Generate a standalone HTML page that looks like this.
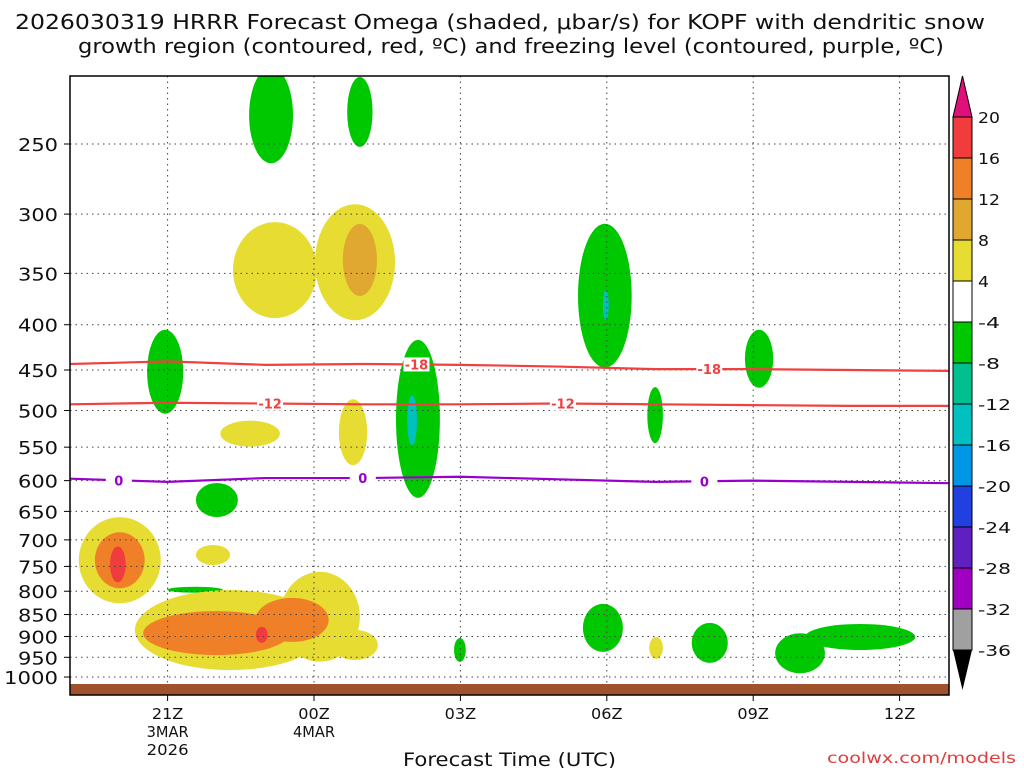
<!DOCTYPE html>
<html><head><meta charset="utf-8"><style>
body{margin:0;background:#fff;width:1024px;height:768px;overflow:hidden;font-family:"Liberation Sans",sans-serif}
svg text{font-family:"DejaVu Sans","Liberation Sans",sans-serif}
</style></head><body>
<svg id="chart" width="1024" height="768" xmlns="http://www.w3.org/2000/svg">
<g>
<text x="15" y="29" textLength="970" lengthAdjust="spacingAndGlyphs" font-size="20" fill="#111">2026030319 HRRR Forecast Omega (shaded, μbar/s) for KOPF with dendritic snow</text>
<text x="78" y="53" textLength="866" lengthAdjust="spacingAndGlyphs" font-size="20" fill="#111">growth region (contoured, red, ºC) and freezing level (contoured, purple, ºC)</text>
</g>
<defs><clipPath id="pc"><rect x="70" y="76" width="879" height="619"/></clipPath></defs>
<rect x="70" y="76" width="879" height="619" fill="#fff"/>
<g id="blobs" clip-path="url(#pc)"></g>
<g id="grid"></g>
<g id="lines" clip-path="url(#pc)"></g>
<rect x="70" y="684" width="879" height="11" fill="#a0522d"/>
<rect x="70" y="76" width="879" height="619" fill="none" stroke="#000" stroke-width="1.5"/>
<g id="axes"></g>
<g id="cbar"></g>
<text x="403" y="766" textLength="213" lengthAdjust="spacingAndGlyphs" font-size="19" fill="#111">Forecast Time (UTC)</text>
<text x="827" y="763" textLength="189" lengthAdjust="spacingAndGlyphs" font-size="15" fill="#e03c3c">coolwx.com/models</text>
</svg>
<script>
const NS="http://www.w3.org/2000/svg";
const pTicks=[250,300,350,400,450,500,550,600,650,700,750,800,850,900,950,1000];
const tHours=[2,5,8,11,14,17];
const tLabels=[["21Z","3MAR","2026"],["00Z","4MAR"],["03Z"],["06Z"],["09Z"],["12Z"]];
// omega shaded regions: center hour (since 19Z), center pressure, half-width (hours), half-height (px), colour
const blobHour=[4.12,5.94,4.2,5.84,5.94,10.96,10.98,1.95,14.12,7.13,7.01,11.99,3.69,5.8,3.01,2.93,2.56,1.02,1.02,0.98,3.28,5.12,5.84,3.0,4.55,3.93,7.99,10.92,13.11,14.96,16.19,12.01,11.0];
const blobP=[232,230,347,340,338,371,380,452,437,511,513,506,531,529,631,728,797,738,738,746,885,855,920,892,862,896,932,880,915,940,901,927,207];
const blobW=[0.45,0.26,0.86,0.82,0.35,0.55,0.06,0.37,0.29,0.45,0.1,0.16,0.61,0.29,0.43,0.35,0.57,0.84,0.51,0.16,1.95,0.82,0.47,1.5,0.75,0.12,0.12,0.41,0.37,0.51,1.13,0.14,0.06];
const blobH=[48,35,48,58,36,72,15,42,29,79,25,28,13,33,17,10,3,43,28,18,40,45,15,22,22,8,12,24,20,20,13,11,4];
const blobC=["#00c800","#00c800","#e6dc32","#e6dc32","#e0a830","#00c800","#00c0c0","#00c800","#00c800","#00c800","#00c0c0","#00c800","#e6dc32","#e6dc32","#00c800","#e6dc32","#00c800","#e6dc32","#f08028","#f03c3c","#e6dc32","#e6dc32","#e6dc32","#f08028","#f08028","#f03c3c","#00c800","#00c800","#00c800","#00c800","#00c800","#e6dc32","#e6dc32"];
const tempHours=[0,2,4,6,8,10,12,14,16,18];
const t18P=[443,440,444,443,444,446,449,449,450,451];
const t12P=[492,490,491,492,492,491,492,493,494,494];
const t0P=[597,602,596,596,594,598,602,600,602,604];
const cbLabels=["20","16","12","8","4","-4","-8","-12","-16","-20","-24","-28","-32","-36"];
const cbColors=["#f03c3c","#f08028","#e0a830","#e6dc32","#ffffff","#00c800","#00c090","#00c0c0","#0096e6","#2040e0","#6020c0","#a000c0","#a0a0a0"];
const X=h=>70+h*48.8, Y=p=>144+384.5*Math.log(p/250);
function el(t,a,par){const e=document.createElementNS(NS,t);for(const k in a)e.setAttribute(k,a[k]);par.appendChild(e);return e;}
const bg=document.getElementById('blobs');
const rank={"#e6dc32":0,"#00c800":0,"#e0a830":1,"#f08028":1,"#00c0c0":2,"#f03c3c":2};
const order=[...blobHour.keys()].sort((a,b)=>rank[blobC[a]]-rank[blobC[b]]);
order.forEach(i=>{const e=el('ellipse',{cx:X(blobHour[i]),cy:Y(blobP[i]),rx:blobW[i]*48.8,ry:blobH[i],fill:blobC[i]},bg);

});
const gg=document.getElementById('grid'),ax=document.getElementById('axes');
pTicks.forEach(p=>{const y=Y(p);el('line',{x1:70,x2:949,y1:y,y2:y,stroke:"#444","stroke-dasharray":"1.5,4"},gg);
el('line',{x1:64,x2:70,y1:y,y2:y,stroke:"#000"},ax);
const s=String(p);
const t=el('text',{x:60-14*s.length,y:y+7,textLength:14*s.length-2,lengthAdjust:"spacingAndGlyphs","font-size":18,fill:"#111"},ax);t.textContent=s;

});
tHours.forEach((h,i)=>{const x=X(h);el('line',{x1:x,x2:x,y1:76,y2:684,stroke:"#444","stroke-dasharray":"1.5,4"},gg);
el('line',{x1:x,x2:x,y1:695,y2:701,stroke:"#000"},ax);
tLabels[i].forEach((s,j)=>{const w=10.5*s.length;const t=el('text',{x:x-w/2,y:719+j*18,textLength:w,lengthAdjust:"spacingAndGlyphs","font-size":15,fill:"#111"},ax);t.textContent=s;

});});
const lg=document.getElementById('lines');
function line(arr,col,name,labs,lab){const d=tempHours.map((h,i)=>(i?'L':'M')+X(h)+','+Y(arr[i])).join('');
const e=el('path',{d:d,fill:"none",stroke:col,"stroke-width":2.2},lg);


labs.forEach(h=>{const i=Math.floor(h/2),f=(h-tempHours[i])/2;const p=arr[i]+(arr[i+1]-arr[i])*f;
el('rect',{x:X(h)-13,y:Y(p)-7,width:26,height:14,fill:"#fff"},lg);
const t=el('text',{x:X(h),y:Y(p)+5,"text-anchor":"middle","font-size":13,"font-weight":"bold",fill:col},lg);t.textContent=lab;});}
line(t18P,"#f04040","isotherm-minus18",[7.1,13.1],"-18");
line(t12P,"#f04040","isotherm-minus12",[4.1,10.1],"-12");
line(t0P,"#9900cc","freezing-level",[1,6,13],"0");
const cb=document.getElementById('cbar');
el('polygon',{points:"953,117 972,117 962.5,76",fill:"#e0107a",stroke:"#000"},cb);
cbColors.forEach((c,i)=>{const r=el('rect',{x:953,y:117+i*41,width:19,height:41,fill:c,stroke:"#000"},cb);

});
el('polygon',{points:"953,650 972,650 962.5,690",fill:"#000"},cb);
cbLabels.forEach((s,i)=>{const w=11*s.length;const t=el('text',{x:978,y:123+i*41,textLength:w,lengthAdjust:"spacingAndGlyphs","font-size":15,fill:"#111"},cb);t.textContent=s;

});
</script>
</body></html>
